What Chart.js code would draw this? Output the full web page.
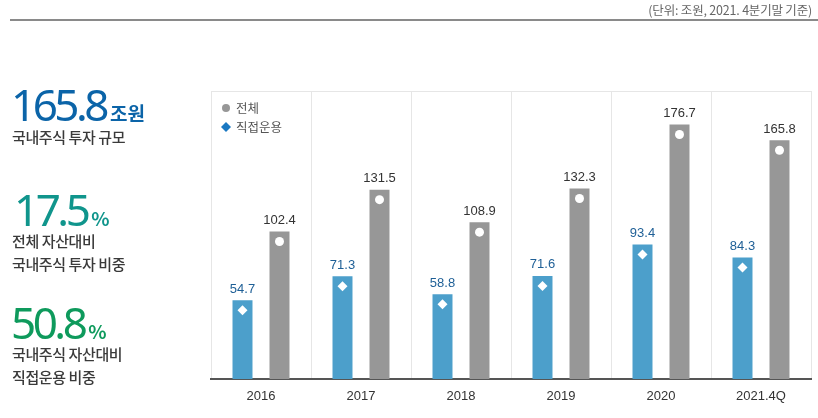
<!DOCTYPE html>
<html>
<head>
<meta charset="utf-8">
<script src="https://cdn.jsdelivr.net/npm/chart.js@4"></script>
<style>
  body { margin: 0; background: #fff; font-family: "Noto Sans CJK KR", "Noto Sans", sans-serif; }
  #wrap { position: relative; width: 818px; height: 418px; overflow: hidden; }
  #chart { position: absolute; left: 0; top: 0; }
  .unit { position: absolute; right: 6px; top: 0px; font-size: 12.5px; color: #666; letter-spacing: -0.2px; }
  .topline { position: absolute; left: 10px; right: 0; top: 19px; height: 2px; background: #8a8a8a; }
  .big { position: absolute; left: 11px; font-family: "Noto Sans", sans-serif; font-size: 44px; line-height: 44px; letter-spacing: -3.5px; font-weight: 400; }
  .big small { font-family: "Noto Sans CJK KR", sans-serif; font-size: 19px; font-weight: 700; letter-spacing: 0; margin-left: 4px; }
  .desc { position: absolute; left: 12px; font-size: 15px; line-height: 23px; color: #3a3a3a; letter-spacing: -0.4px; font-weight: 500; }
</style>
</head>
<body>
<div id="wrap">
  <canvas id="chart" width="818" height="418"></canvas>
  <div class="unit">(단위: 조원, 2021. 4분기말 기준)</div>
  <div class="topline"></div>

  <div class="big" style="top:82px;color:#0b64a8">165.8<small>조원</small></div>
  <div class="desc" style="top:125px">국내주식 투자 규모</div>

  <div class="big" style="top:187px;left:14px;color:#10958c">17.5<small>%</small></div>
  <div class="desc" style="top:229px">전체 자산대비<br>국내주식 투자 비중</div>

  <div class="big" style="top:300px;color:#0e9a5c">50.8<small>%</small></div>
  <div class="desc" style="top:342px">국내주식 자산대비<br>직접운용 비중</div>
</div>
<script>
const years = ['2016', '2017', '2018', '2019', '2020', '2021.4Q'];
const totalValues = [102.4, 131.5, 108.9, 132.3, 176.7, 165.8];   // 전체
const directValues = [54.7, 71.3, 58.8, 71.6, 93.4, 84.3];        // 직접운용

const blueBar = '#4c9fcb';
const grayBar = '#979797';

// labels above bars, white markers inside bars, legend in the corner
const barDecor = {
    id: 'barDecor',
    beforeDraw(chart) {
        const a = chart.chartArea;
        const ctx = chart.ctx;
        ctx.save();
        ctx.strokeStyle = '#e6e6e6';
        ctx.lineWidth = 1;
        ctx.beginPath();
        ctx.moveTo(a.left, a.top + 0.5);
        ctx.lineTo(a.right, a.top + 0.5);
        ctx.stroke();
        ctx.restore();
    },
    afterDatasetsDraw(chart) {
        const ctx = chart.ctx;
        ctx.save();
        ctx.textAlign = 'center';
        ctx.textBaseline = 'middle';
        ctx.font = '13px "Liberation Sans", Arial, sans-serif';
        chart.data.datasets.forEach((ds, di) => {
            const meta = chart.getDatasetMeta(di);
            meta.data.forEach((bar, i) => {
                ctx.fillStyle = di === 0 ? '#1e5f96' : '#333';
                ctx.fillText(ds.data[i].toFixed(1), bar.x, bar.y - 11);
                ctx.fillStyle = '#fff';
                const my = bar.y + 10;
                if (di === 0) {
                    ctx.beginPath();
                    ctx.moveTo(bar.x, my - 5);
                    ctx.lineTo(bar.x + 5, my);
                    ctx.lineTo(bar.x, my + 5);
                    ctx.lineTo(bar.x - 5, my);
                    ctx.closePath();
                    ctx.fill();
                } else {
                    ctx.beginPath();
                    ctx.arc(bar.x, my, 4.5, 0, Math.PI * 2);
                    ctx.fill();
                }
            });
        });

        // legend
        const a = chart.chartArea;
        const lx = a.left + 15;
        ctx.textAlign = 'left';
        ctx.font = '12.5px "Noto Sans CJK KR", sans-serif';
        ctx.fillStyle = grayBar;
        ctx.beginPath();
        ctx.arc(lx, a.top + 17, 4, 0, Math.PI * 2);
        ctx.fill();
        ctx.fillStyle = '#1a78c2';
        const dy = a.top + 36;
        ctx.beginPath();
        ctx.moveTo(lx, dy - 5);
        ctx.lineTo(lx + 5, dy);
        ctx.lineTo(lx, dy + 5);
        ctx.lineTo(lx - 5, dy);
        ctx.closePath();
        ctx.fill();
        ctx.fillStyle = '#555';
        ctx.fillText('전체', lx + 10, a.top + 17);
        ctx.fillText('직접운용', lx + 10, dy);
        ctx.restore();
    }
};

new Chart(document.getElementById('chart'), {
    type: 'bar',
    data: {
        labels: years,
        datasets: [{
            label: '직접운용',
            data: directValues,
            backgroundColor: blueBar,
            categoryPercentage: 0.74,
            barPercentage: 0.54
        }, {
            label: '전체',
            data: totalValues,
            backgroundColor: grayBar,
            categoryPercentage: 0.74,
            barPercentage: 0.54
        }]
    },
    options: {
        responsive: false,
        animation: false,
        layout: { padding: { left: 211, top: 91, right: 7, bottom: 0 } },
        plugins: {
            legend: { display: false },
            tooltip: { enabled: false }
        },
        scales: {
            x: {
                offset: true,
                grid: { color: '#e6e6e6', drawTicks: false, offset: true },
                border: { color: '#555', width: 2 },
                ticks: {
                    color: '#333',
                    padding: 10,
                    font: { size: 13, family: '"Liberation Sans", Arial, sans-serif' }
                },
                afterFit(scale) { scale.height = 39; }
            },
            y: {
                display: false,
                min: 0,
                max: 200
            }
        }
    },
    plugins: [barDecor]
});
</script>
</body>
</html>
